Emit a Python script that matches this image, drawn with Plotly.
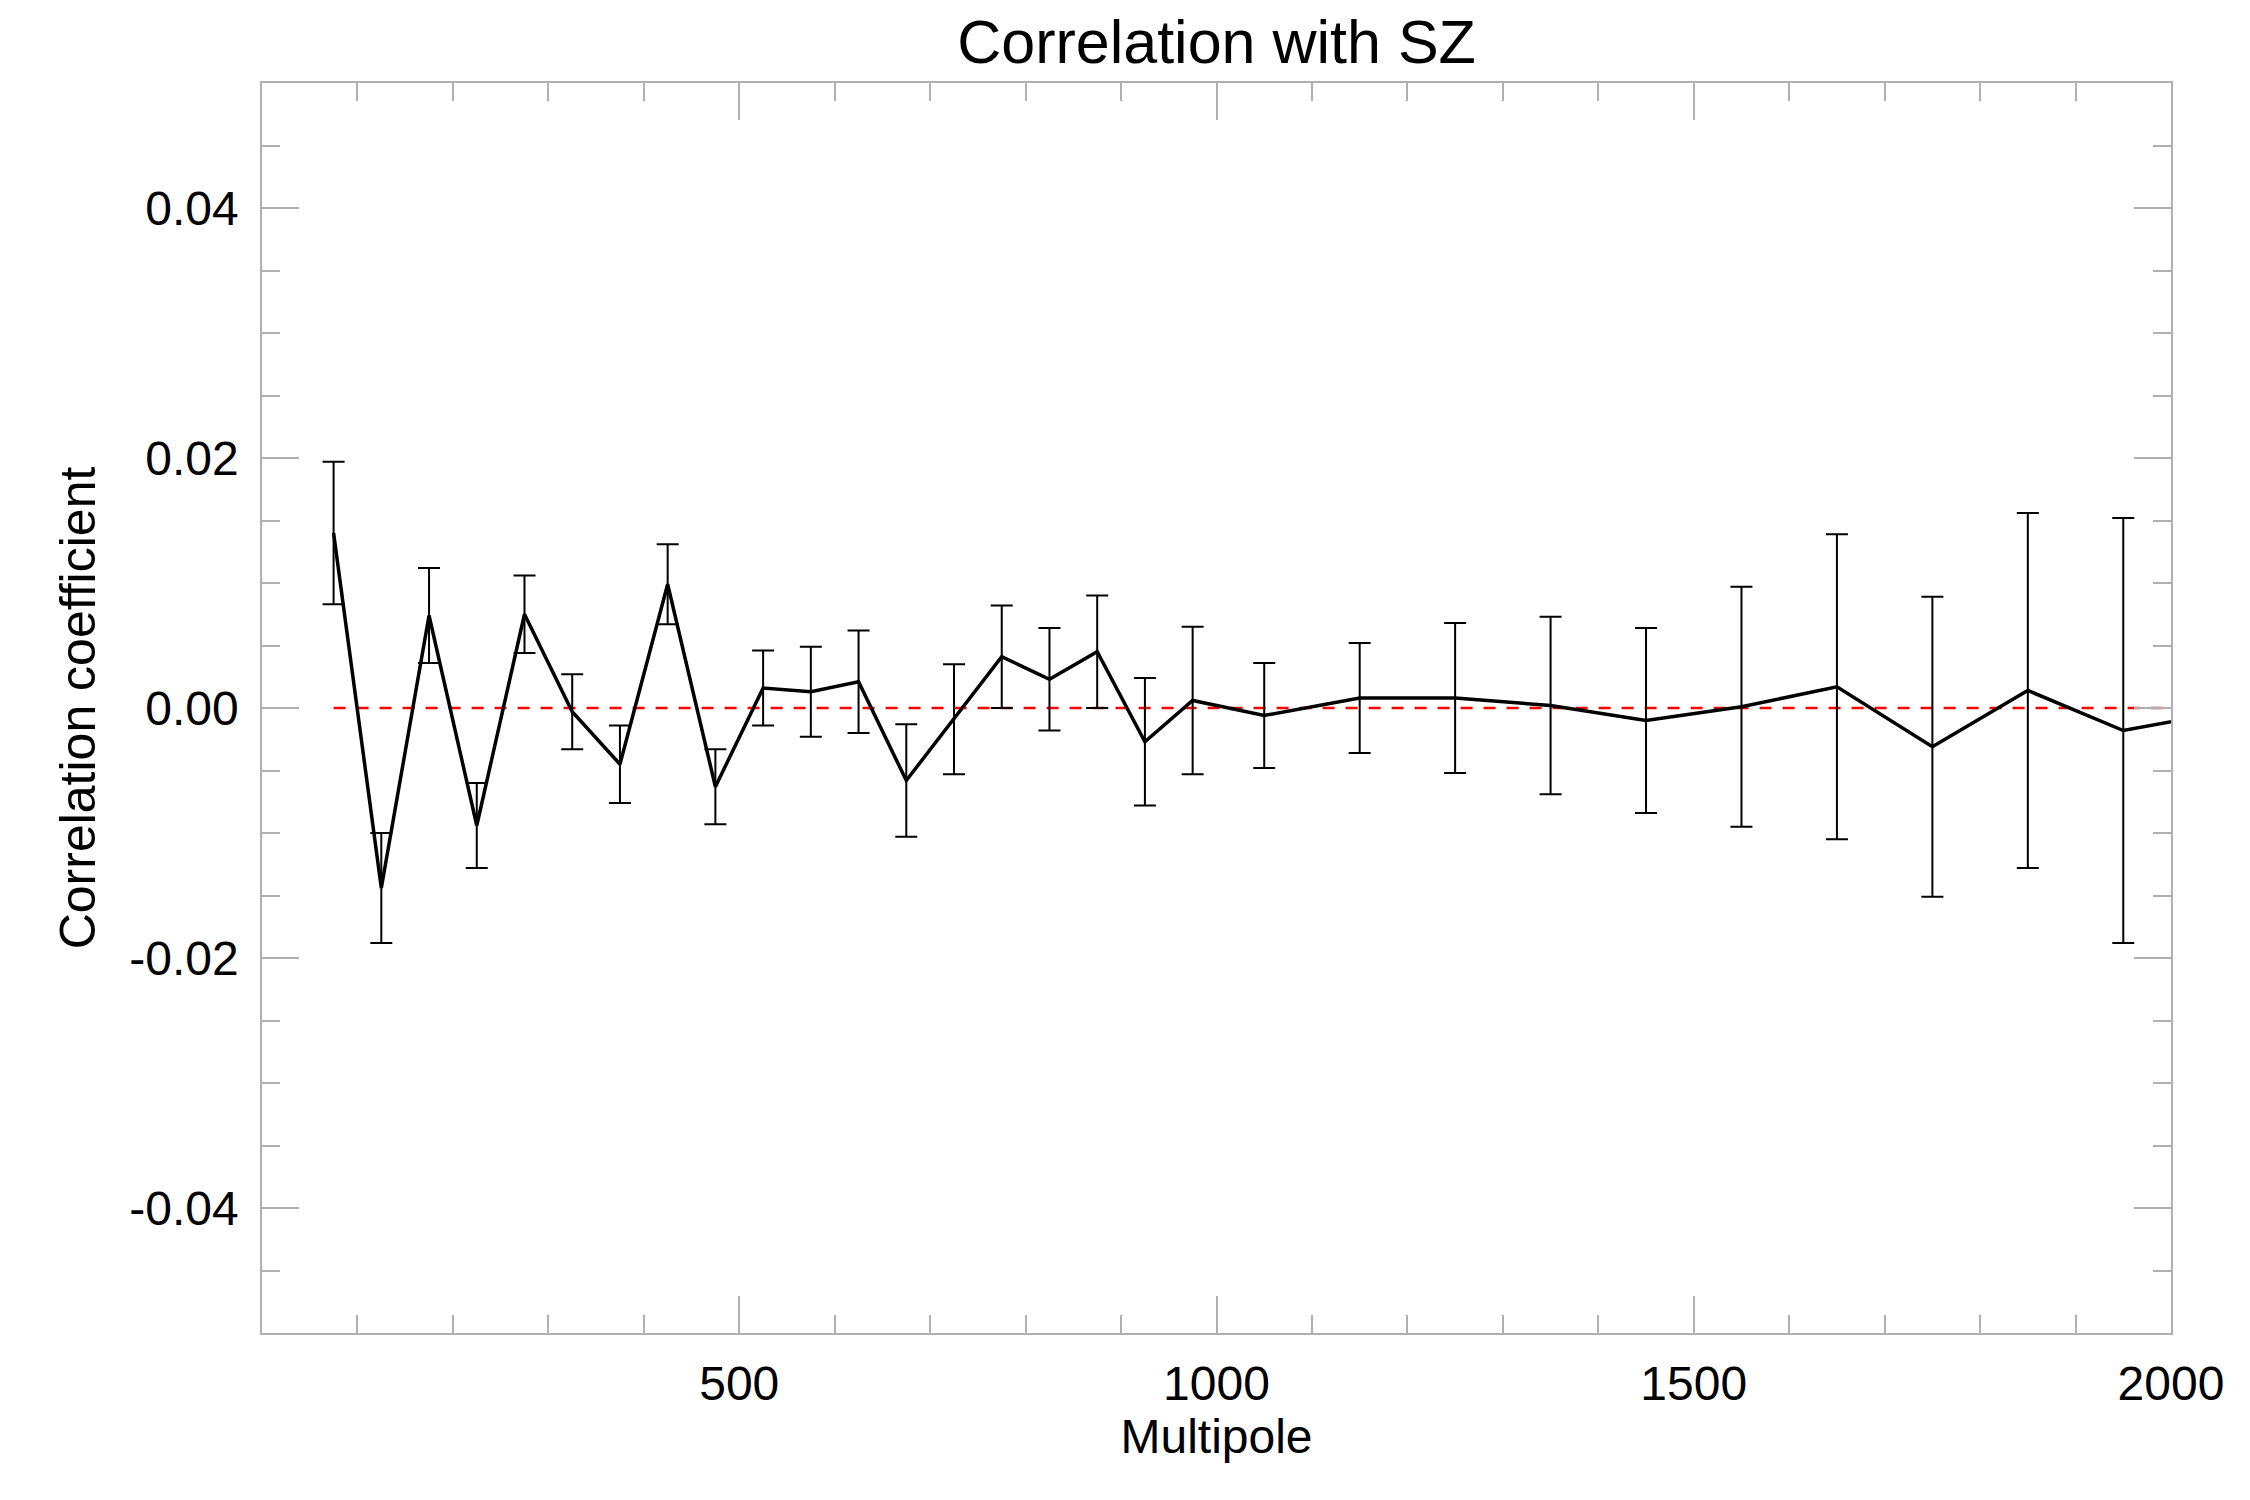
import plotly.graph_objects as go

# Data
multipole = [75, 125, 175, 225, 275, 325, 375, 425, 475, 525, 575, 625, 675, 725,
             775, 825, 875, 925, 975, 1050, 1150, 1250, 1350, 1450, 1550, 1650,
             1750, 1850, 1950, 2050]
corr = [0.0140, -0.0144, 0.0074, -0.0094, 0.0075, -0.0003, -0.0045, 0.0099, -0.0063,
        0.0016, 0.0013, 0.0021, -0.0058, -0.0009, 0.0041, 0.0023, 0.0045, -0.0027,
        0.0006, -0.0006, 0.0008, 0.0008, 0.0002, -0.0010, 0.0001, 0.0017, -0.0031,
        0.0014, -0.0018, -0.0004]
corr_err = [0.0057, 0.0044, 0.0038, 0.0034, 0.0031, 0.0030, 0.0031, 0.0032, 0.0030,
            0.0030, 0.0036, 0.0041, 0.0045, 0.0044, 0.0041, 0.0041, 0.0045, 0.0051,
            0.0059, 0.0042, 0.0044, 0.0060, 0.0071, 0.0074, 0.0096, 0.0122, 0.0120,
            0.0142, 0.0170, 0.0200]

x_range = [0, 2000]
y_range = [-0.05, 0.05]
x_tickvals = [500, 1000, 1500, 2000]
x_ticktext = ["500", "1000", "1500", "2000"]
y_tickvals = [-0.04, -0.02, 0.0, 0.02, 0.04]
y_ticktext = ["-0.04", "-0.02", "0.00", "0.02", "0.04"]

zero_x = [multipole[0], x_range[1]]
zero_y = [0.0, 0.0]

FONT = "Liberation Sans, Arial, Helvetica, sans-serif"
AXIS_GREY = "#b0b0b0"

# page has an 8px body margin; size the figure so the plot lands where the reference has it
W, H = 2242, 1492
L, T = 254, 75
R = W - (2171 - 8)
B = H - (1333 - 8)

fig = go.Figure()

fig.add_trace(go.Scatter(
    x=zero_x, y=zero_y, mode="lines",
    line=dict(color="#ff0000", width=2.4, dash="12px,11px"),
    showlegend=False, hoverinfo="skip",
))

fig.add_trace(go.Scatter(
    x=multipole, y=corr, mode="lines",
    line=dict(color="black", width=3.5),
    error_y=dict(type="data", array=corr_err, visible=True,
                 color="black", thickness=2, width=11),
    showlegend=False,
))

fig.update_layout(
    width=W, height=H,
    margin=dict(l=L, r=R, t=T, b=B, pad=0),
    paper_bgcolor="white", plot_bgcolor="white",
    font=dict(family=FONT, size=48, color="black"),
    title=dict(text="Correlation with SZ", font=dict(size=61, color="black"),
               x=(L + (W - R)) / 2 / W, xanchor="center",
               yref="container", y=1 - 34 / H, yanchor="middle"),
)

fig.update_xaxes(
    range=x_range, showgrid=False, zeroline=False,
    showline=True, linecolor=AXIS_GREY, linewidth=1.5, mirror="ticks",
    ticks="inside", ticklen=37, tickwidth=1.5, tickcolor=AXIS_GREY,
    tickmode="array", tickvals=x_tickvals, ticktext=x_ticktext,
    tickfont=dict(size=48), ticklabelstandoff=8,
    minor=dict(dtick=100, tick0=0, ticks="inside", ticklen=18,
               tickwidth=1.5, tickcolor=AXIS_GREY, showgrid=False),
    title=dict(text="Multipole", font=dict(size=48), standoff=6),
)

fig.update_yaxes(
    range=y_range, showgrid=False, zeroline=False,
    showline=True, linecolor=AXIS_GREY, linewidth=1.5, mirror="ticks",
    ticks="inside", ticklen=37, tickwidth=1.5, tickcolor=AXIS_GREY,
    tickmode="array", tickvals=y_tickvals, ticktext=y_ticktext,
    tickfont=dict(size=48), ticklabelstandoff=12,
    minor=dict(dtick=0.005, tick0=0, ticks="inside", ticklen=18,
               tickwidth=1.5, tickcolor=AXIS_GREY, showgrid=False),
    title=dict(text="Correlation coefficient", font=dict(size=50), standoff=18),
)

fig.write_html("out.html")
